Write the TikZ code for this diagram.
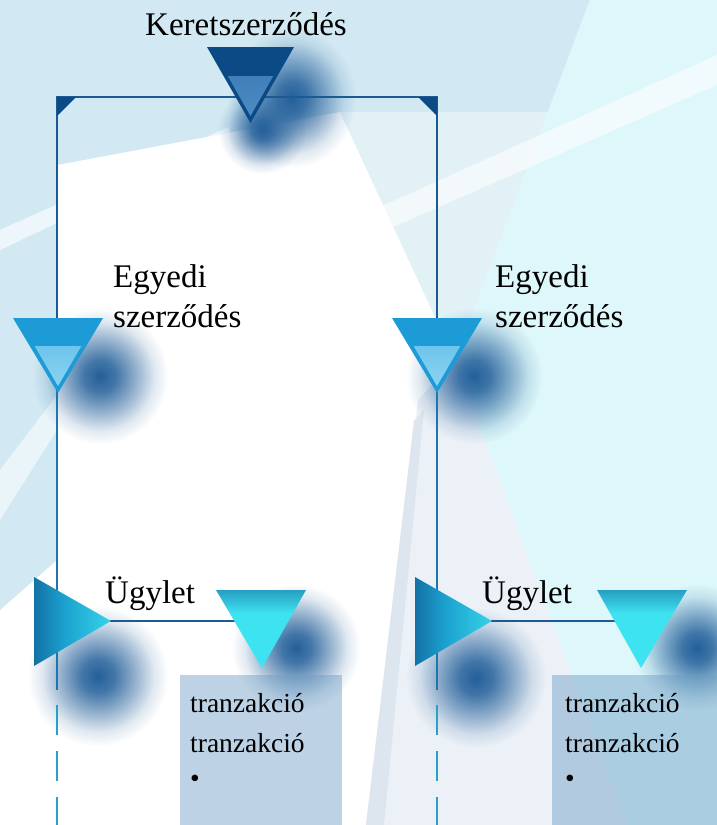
\documentclass[tikz,border=0pt]{standalone}
\usepackage{fontspec}
\setmainfont{Liberation Serif}
\usetikzlibrary{fadings}
\definecolor{bgcyan}{HTML}{DDF7FA}
\definecolor{bgblue}{HTML}{D2E9F3}
\definecolor{bgpale}{HTML}{E1F1F6}
\definecolor{bglav}{HTML}{ECF1F7}
\definecolor{bgstripe}{HTML}{DDE5EF}
\definecolor{navy}{HTML}{0B4A85}
\definecolor{linenavy}{HTML}{1B5A92}
\definecolor{tealline}{HTML}{1F75AD}
\definecolor{dashcyan}{HTML}{2A9FC8}
\definecolor{egblue}{HTML}{1C9BD6}
\definecolor{eglight}{HTML}{5DBBE7}
\definecolor{eglighter}{HTML}{8AD3F1}
\definecolor{klight}{HTML}{3A77B2}
\definecolor{kdark}{HTML}{4C8BC4}
\definecolor{shadowcol}{HTML}{24609A}
\definecolor{cyanhi}{HTML}{3EE3F2}
\definecolor{cyanlo}{HTML}{62EEF8}
\definecolor{rtdark}{HTML}{0E5A90}
\definecolor{rtmid}{HTML}{1CA2CF}
\definecolor{rectcol}{HTML}{6D9CC4}
\pgfdeclareverticalshading{dtri}{100bp}{color(0bp)=(cyanlo); color(30bp)=(cyanhi); color(60bp)=(cyanhi); color(85bp)=(navy!75!cyanhi); color(100bp)=(navy)}
\pgfdeclarehorizontalshading{rtri}{100bp}{color(0bp)=(rtdark); color(15bp)=(rtdark); color(45bp)=(rtmid); color(85bp)=(cyanhi); color(100bp)=(cyanhi)}
\pgfdeclareradialshading{blobsh}{\pgfpoint{0bp}{0bp}}{color(0bp)=(white); color(6bp)=(white!85!black); color(14bp)=(white!45!black); color(20bp)=(white!14!black); color(25bp)=(black); color(50bp)=(black)}
\pgfdeclarefading{blobfade}{\pgfuseshading{blobsh}}
\tikzset{
  biglabel/.style={font=\fontsize{33}{38}\selectfont, inner sep=0pt},
  smalllabel/.style={font=\fontsize{27.5}{30}\selectfont, inner sep=0pt},
  navyconn/.style={draw=linenavy, line width=2.6pt},
  tealconn/.style={draw=tealline, line width=2.6pt},
  dashconn/.style={draw=dashcyan, line width=2.8pt, dash pattern=on 30pt off 16pt},
  blob/.style={fill=shadowcol, path fading=blobfade, fit fading=true},
}
\begin{document}
\begin{tikzpicture}[x=1pt,y=-1pt]
\useasboundingbox (0,0) rectangle (717,825);
% ---------- background ----------
\fill[white] (0,0) rectangle (717,825);
\fill[bgblue] (0,0) -- (590,0) -- (548,112) -- (340,112) -- (57,165) -- (57,560) -- (0,610) -- cycle;
\fill[bgpale] (340,112) -- (548,112) -- (455,360) -- cycle;
\fill[bgcyan] (590,0) -- (717,0) -- (717,825) -- (627,825) -- (455,360) -- cycle;
\fill[bglav] (418,400) -- (455,360) -- (627,825) -- (366,825) -- cycle;
\fill[bgstripe] (414,421) -- (424,410) -- (384,825) -- (366,825) -- cycle;
\fill[white, opacity=0.6] (347,222) -- (717,55) -- (717,85) -- (352,245) -- cycle;
\fill[white, opacity=0.6] (0,230) -- (229,127) -- (232,140) -- (0,250) -- cycle;
\fill[white, opacity=0.55] (0,470) -- (57,395) -- (57,430) -- (0,520) -- cycle;
% ---------- shadows ----------
\fill[blob] (292,98) ellipse (64 and 70);
\fill[blob] (262,130) ellipse (44 and 44);
\fill[blob] (100,376) ellipse (68 and 68);
\fill[blob] (474,376) ellipse (68 and 68);
\fill[blob] (98,676) ellipse (70 and 70);
\fill[blob] (476,678) ellipse (70 and 70);
\fill[blob] (296,648) ellipse (64 and 64);
\fill[blob] (697,648) ellipse (64 and 64);
% ---------- rectangles ----------
\fill[rectcol, opacity=0.45] (180,675) rectangle (342,825);
\fill[rectcol, opacity=0.45] (552,675) rectangle (717,825);
% ---------- named points ----------
\coordinate (cL) at (57,97);
\coordinate (cR) at (437,97);
\coordinate (e1Top) at (57,318);
\coordinate (e2Top) at (437,318);
\coordinate (e1Apex) at (57,390);
\coordinate (e2Apex) at (437,390);
\coordinate (e1Sol) at (57,690);
\coordinate (e2Sol) at (437,690);
\coordinate (e1Dash) at (57,705);
\coordinate (e2Dash) at (437,705);
\coordinate (e1End) at (57,830);
\coordinate (e2End) at (437,830);
\coordinate (u1Apex) at (110,621);
\coordinate (u2Apex) at (491,621);
\coordinate (t1Mid) at (262,621);
\coordinate (t2Mid) at (641,621);
% ---------- connectors ----------
\draw[navyconn] (e1Top) -- (cL) -- (cR) -- (e2Top);
\fill[navy] (cL) -- ++(19,0) -- ++(-19,19) -- cycle;
\fill[navy] (cR) -- ++(-19,0) -- ++(19,19) -- cycle;
\draw[tealconn] (e1Apex) -- (e1Sol);
\draw[tealconn] (e2Apex) -- (e2Sol);
\draw[dashconn] (e1Dash) -- (e1End);
\draw[dashconn] (e2Dash) -- (e2End);
\draw[navyconn] (u1Apex) -- (t1Mid);
\draw[navyconn] (u2Apex) -- (t2Mid);
% ---------- top triangle ----------
\fill[navy] (207,47) -- (294,47) -- (250.5,123) -- cycle;
\begin{scope}
  \clip (0,76) rectangle (717,200);
  \shade[top color=klight, bottom color=kdark] (213,50) -- (288,50) -- (250.5,116) -- cycle;
\end{scope}
% ---------- Egyedi triangles ----------
\foreach \cx in {58,437}{
  \fill[egblue] (\cx-45,318) -- (\cx+45,318) -- (\cx,393) -- cycle;
  \begin{scope}
    \clip (0,346) rectangle (717,400);
    \shade[top color=eglight, bottom color=eglighter] (\cx-38,321) -- (\cx+38,321) -- (\cx,386) -- cycle;
  \end{scope}
}
% ---------- Ugylet right-pointing triangles ----------
\shade[shading=rtri] (34,577) -- (34,666) -- (111,621) -- cycle;
\shade[shading=rtri] (415,577) -- (415,666) -- (492,621) -- cycle;
% ---------- down triangles ----------
\shade[shading=dtri] (216,590) -- (306,590) -- (262,668) -- cycle;
\shade[shading=dtri] (597,590) -- (687,590) -- (641,668) -- cycle;
% ---------- labels ----------
\node[biglabel, anchor=base] (kLabel) at (246,35) {Keretszerződés};
\node[biglabel, anchor=base west] (e1a) at (113,287) {Egyedi};
\node[biglabel, anchor=base west] (e1b) at (113,327) {szerződés};
\node[biglabel, anchor=base west] (e2a) at (495,287) {Egyedi};
\node[biglabel, anchor=base west] (e2b) at (495,327) {szerződés};
\node[biglabel, anchor=base west] (u1) at (105,603) {Ügylet};
\node[biglabel, anchor=base west] (u2) at (482,603) {Ügylet};
\node[smalllabel, anchor=base west] (r1a) at (190,712) {tranzakció};
\node[smalllabel, anchor=base west] (r1b) at (190,752) {tranzakció};
\node[smalllabel, anchor=base west] (r1c) at (190,787) {•};
\node[smalllabel, anchor=base west] (r2a) at (565,712) {tranzakció};
\node[smalllabel, anchor=base west] (r2b) at (565,752) {tranzakció};
\node[smalllabel, anchor=base west] (r2c) at (565,787) {•};
\end{tikzpicture}
\end{document}
